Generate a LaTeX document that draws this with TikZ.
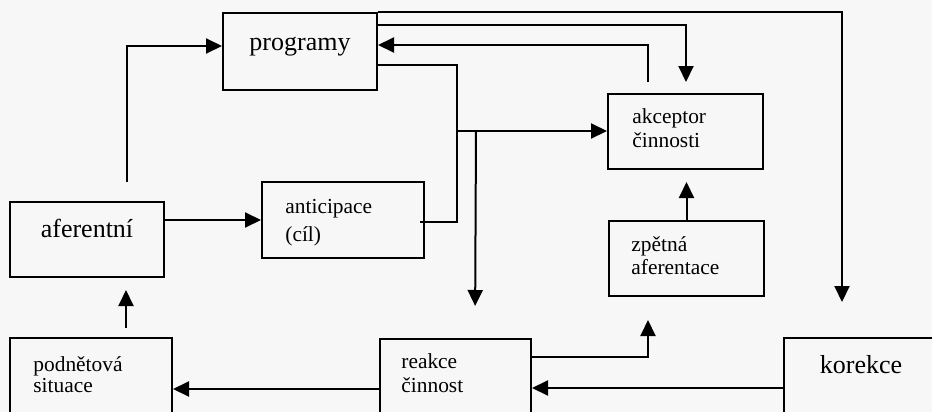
\documentclass[tikz,border=0pt]{standalone}
\usepackage{fontspec}
\setmainfont{Liberation Serif}
\usetikzlibrary{arrows.meta,calc}

\tikzset{
  box/.style={draw, line width=1pt, rectangle, inner sep=0pt},
  big/.style={inner sep=0pt, font=\fontsize{13}{15}\selectfont},
  lbl/.style={inner sep=0pt, align=left, font=\fontsize{10.7}{#1}\selectfont},
  lbl/.default=12,
  conn/.style={line width=1pt},
  arr/.style={line width=1pt, -{Triangle[length=8pt,width=7.5pt]}},
}

\begin{document}
\begin{tikzpicture}[x=0.5pt, y=-0.5pt]
	\useasboundingbox (0,0) rectangle (932,412);
	\clip (0,0) rectangle (932,412);
	\fill[black!3] (0,0) rectangle (932,412);

	%boxes
	\node[box, minimum width=77pt, minimum height=38.5pt] (prog) at (300,51.5) {};
	\node[box, minimum width=77.5pt, minimum height=37.5pt] (akc) at (685.5,131.5) {};
	\node[box, minimum width=77.5pt, minimum height=37.5pt] (zpet) at (686.5,258.5) {};
	\node[box, minimum width=77pt, minimum height=37.5pt] (afer) at (87,239.5) {};
	\node[box, minimum width=81pt, minimum height=38pt] (anti) at (343,220) {};
	\node[box, minimum width=81pt, minimum height=50pt] (podn) at (91,388) {};
	\node[box, minimum width=75.5pt, minimum height=50pt] (reak) at (455.5,389) {};
	\node[box, minimum width=90pt, minimum height=50pt] (kor) at (874,388) {};

	%texts (base = last line)
	\node[big, anchor=base] (progT) at (300,50) {programy};
	\node[big, anchor=base] (aferT) at (87,237) {aferentní};
	\node[big, anchor=base] (korT) at (861,373) {korekce};
	\node[lbl, anchor=base west] (akcT) at (632,147) {akceptor\\činnosti};
	\node[lbl=11.5, anchor=base west] (zpetT) at (631,274) {zpětná\\aferentace};
	\node[lbl=14, anchor=base west] (antiT) at (285,241) {anticipace\\(cíl)};
	\node[lbl=10.5, anchor=base west] (podnT) at (33,392) {podnětová\\situace};
	\node[lbl, anchor=base west] (reakT) at (401,392) {reakce\\činnost};

	%left side
	\draw[arr] ($(afer.north)+(40,-19)$) |- ($(prog.west)+(0,-5.5)$);
	\draw[arr] (afer.east |- anti.west) -- (anti.west);
	\draw[arr, shorten <=4.5pt, shorten >=6pt] ($(podn.north west)+(117,0)$) -- ($(afer.south west)+(117,0)$);

	%bottom row
	\draw[arr] (reak.west) -- (reak.west -| podn.east);
	\draw[arr] (kor.west) -- (kor.west -| reak.east);
	\draw[arr, shorten >=11.5pt] ($(reak.north east)+(0,19)$) -| ($(zpet.south west)+(40,0)$);

	%right side
	\draw[arr, shorten >=6pt] (zpet.north) -- (zpet.north |- akc.south);
	\draw[arr, shorten <=5.5pt] ($(akc.north west)+(41,0)$) |- ($(prog.east)+(0,-6.5)$);
	\draw[arr, shorten >=5.5pt] ($(prog.east)+(0,-26.5)$) -| ($(akc.north west)+(79,0)$);
	\draw[arr, shorten >=17.5pt] (prog.north east) -| ($(kor.north west)+(59,0)$);

	%middle junction
	\coordinate (jA) at (456,131);
	\draw[conn] ($(prog.east)+(0,13.5)$) -- ++(79,0) |- ($(anti.east)+(-5,2)$);
	\draw[arr] (jA) -- (jA -| akc.west);
	\draw[arr, shorten >=16pt] ($(jA)+(20,0)$) -- ($(reak.north west)+(96,0)$);
\end{tikzpicture}
\end{document}
